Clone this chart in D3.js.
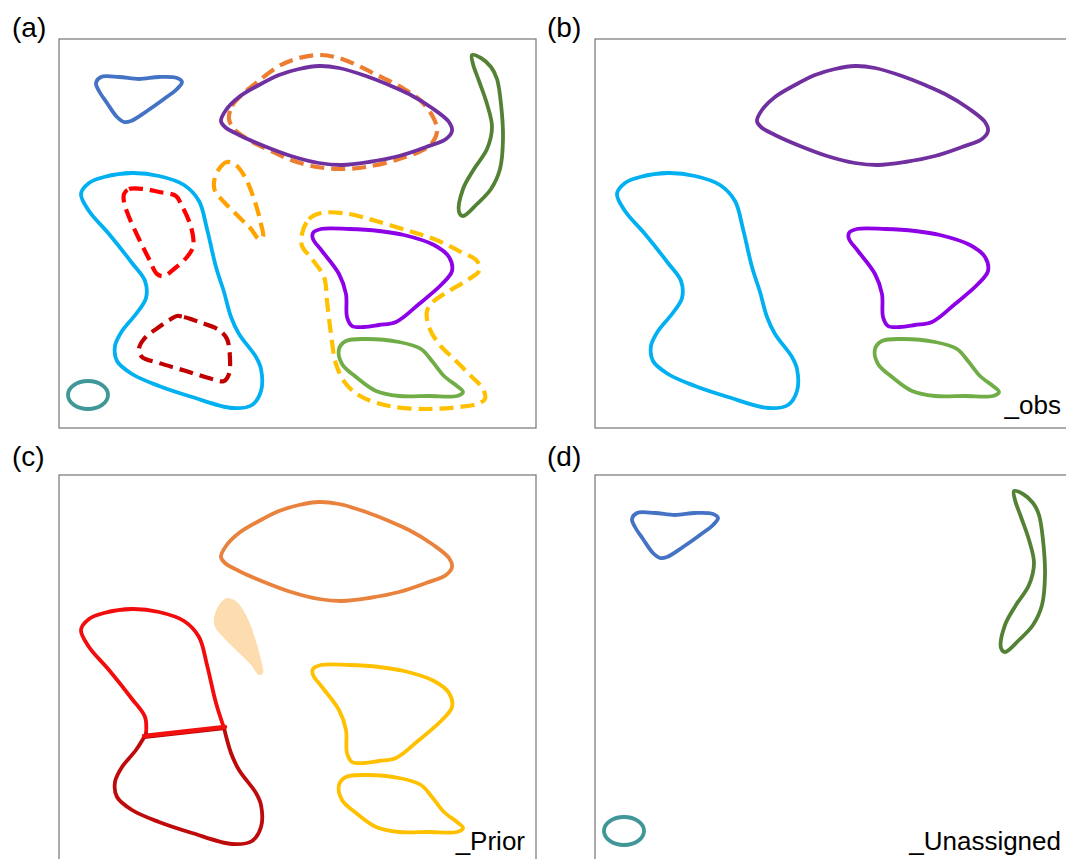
<!DOCTYPE html>
<html>
<head>
<meta charset="utf-8">
<script src="https://cdn.jsdelivr.net/npm/d3@7"></script>
<style>
  html, body { margin: 0; padding: 0; background: #fff; }
  svg { display: block; font-family: "Liberation Sans", Arial, sans-serif; }
</style>
</head>
<body>
<div id="chart"></div>
<script>
// outlines, in panel units (0..477 across, 0..389 down)
const blueTriangle = [[37,44],[42,38],[60,38],[80,40],[100,38],[118,39],[123,43],[118,50],[105,60],[88,72],[72,82],[65,83],[58,78],[48,64],[40,52]];
const purpleBig = [[162,82],[167,71],[180,58],[200,46],[220,36],[240,30],[260,27],[280,29],[307,37],[330,46],[350,55],[373,69],[390,83],[393,92],[387,100],[367,108],[340,117],[310,123],[283,126],[260,124],[232,117],[205,107],[180,96],[166,88]];
const orangeBig = [[170,80],[173,67],[185,54],[197,44],[220,27],[240,19],[262,16],[283,20],[320,37],[345,50],[362,62],[375,80],[378,93],[370,107],[340,120],[307,128],[283,130],[258,128],[232,121],[210,111],[190,101],[175,90]];
const greenCrescent = [[413,16],[422,19],[432,28],[438,40],[442,65],[444,100],[441,130],[432,150],[418,165],[404,177],[400,173],[404,150],[415,130],[428,110],[433,88],[428,65],[420,42],[414,25]];
const cyanUpper = [[87,259],[86,242],[73,224],[50,195],[30,172],[22,155],[30,144],[45,138],[73,134],[100,137],[125,146],[140,162],[148,190],[157,228],[165,253]];
const cyanLower = [[165,253],[172,278],[180,295],[197,318],[202,330],[202,352],[193,366],[173,369],[133,358],[100,347],[73,335],[58,322],[56,307],[63,292],[77,275],[87,259]];
const redUpper = [[65,155],[70,150],[85,150],[100,153],[117,157],[122,165],[130,182],[134,197],[134,208],[128,218],[115,230],[105,237],[98,235],[90,220],[80,200],[70,178],[65,163]];
const redLower = [[118,277],[125,278],[140,283],[160,291],[168,300],[171,320],[170,335],[165,342],[153,340],[127,332],[100,324],[83,318],[80,310],[85,300],[100,288],[112,280]];
const teardrop = [[155,143],[160,130],[168,123],[177,126],[187,140],[196,163],[202,185],[204,198],[200,200],[192,190],[180,178],[165,163],[156,152]];
const purpleSmall = [[254,194],[262,190],[290,190],[320,192],[345,196],[375,206],[390,218],[393,232],[383,245],[360,265],[337,283],[320,286],[305,288],[293,287],[288,278],[287,255],[280,235],[263,212],[254,200]];
const greenSmall = [[280,310],[287,302],[307,300],[340,303],[362,310],[373,322],[385,337],[398,347],[404,353],[398,357],[370,357],[340,357],[317,352],[297,338],[283,325]];
const yellowOuter = [[243,195],[250,180],[262,174],[290,175],[317,182],[350,192],[375,200],[400,212],[418,222],[420,232],[410,240],[390,252],[375,262],[368,272],[370,288],[380,305],[395,320],[412,337],[424,350],[426,360],[418,365],[400,368],[367,370],[330,367],[303,358],[287,345],[277,325],[272,295],[268,262],[265,238],[253,220],[243,207]];
const tealEllipse = { cx: 29, cy: 356, rx: 20, ry: 14 };
const splitLine = [[85,261],[166,252]];

const panelLabels = ['(a)', '(b)', '(c)', '(d)'];
const cornerTexts = ['', '_obs', '_Prior', '_Unassigned'];

const cyanWhole = cyanUpper.concat(cyanLower.slice(1, -1));

const W = 1066, H = 859;
const boxW = 477, boxH = 389;
const panels = [
  { x: 59,  y: 39,  lx: 12,  ly: 37 },
  { x: 595, y: 39,  lx: 547, ly: 37 },
  { x: 59,  y: 475, lx: 12,  ly: 466 },
  { x: 595, y: 475, lx: 547, ly: 466 }
];

const x = d3.scaleLinear().domain([0, 477]).range([0, boxW]);
const y = d3.scaleLinear().domain([0, 389]).range([0, boxH]);

const closed = d3.line().x(d => x(d[0])).y(d => y(d[1])).curve(d3.curveCatmullRomClosed.alpha(0.5));
const open = d3.line().x(d => x(d[0])).y(d => y(d[1])).curve(d3.curveCatmullRom.alpha(0.5));

const DASH = '14,7';
const LW = 3.8;

// what each panel shows
const layers = [
  [
    { pts: orangeBig, color: '#ED7D31', dash: DASH },
    { pts: redUpper, color: '#FF0000', dash: DASH },
    { pts: redLower, color: '#C00000', dash: DASH },
    { pts: teardrop, color: '#FFA200', dash: DASH },
    { pts: yellowOuter, color: '#FFC000', dash: DASH },
    { pts: blueTriangle, color: '#4472C4' },
    { pts: purpleBig, color: '#7030A0' },
    { pts: greenCrescent, color: '#548235' },
    { pts: cyanWhole, color: '#00B0F0' },
    { pts: purpleSmall, color: '#8E00E6' },
    { pts: greenSmall, color: '#70AD47' },
    { ellipse: tealEllipse, color: '#3F9797' }
  ],
  [
    { pts: purpleBig, color: '#7030A0' },
    { pts: cyanWhole, color: '#00B0F0' },
    { pts: purpleSmall, color: '#8E00E6' },
    { pts: greenSmall, color: '#70AD47' }
  ],
  [
    { pts: purpleBig, color: '#E8823C' },
    { pts: teardrop, fill: '#FDDDB0' },
    { pts: cyanUpper, color: '#F20C0C', isOpen: true },
    { pts: cyanLower, color: '#BE0A0A', isOpen: true },
    { pts: splitLine, color: '#B00000', isOpen: true, width: 2, dy: 2 },
    { pts: splitLine, color: '#F01010', isOpen: true, width: 4.5 },
    { pts: purpleSmall, color: '#FFC000' },
    { pts: greenSmall, color: '#FFC000' }
  ],
  [
    { pts: blueTriangle, color: '#4472C4' },
    { pts: greenCrescent, color: '#548235', dx: 6 },
    { ellipse: tealEllipse, color: '#3F9797' }
  ]
];

const svg = d3.select('#chart').append('svg')
  .attr('width', W)
  .attr('height', H);

panels.forEach((p, i) => {
  svg.append('text')
    .attr('x', p.lx)
    .attr('y', p.ly)
    .attr('font-size', 28)
    .attr('fill', '#000')
    .text(panelLabels[i]);

  const g = svg.append('g').attr('transform', `translate(${p.x},${p.y})`);

  g.append('rect')
    .attr('width', boxW)
    .attr('height', boxH)
    .attr('fill', 'none')
    .attr('stroke', '#7f7f7f')
    .attr('stroke-width', 1.3);

  layers[i].forEach(l => {
    if (l.ellipse) {
      g.append('ellipse')
        .attr('cx', x(l.ellipse.cx))
        .attr('cy', y(l.ellipse.cy))
        .attr('rx', x(l.ellipse.rx))
        .attr('ry', y(l.ellipse.ry))
        .attr('fill', 'none')
        .attr('stroke', l.color)
        .attr('stroke-width', LW);
      return;
    }
    const path = g.append('path')
      .attr('d', l.isOpen ? open(l.pts) : closed(l.pts))
      .attr('transform', `translate(${l.dx || 0},${l.dy || 0})`)
      .attr('stroke-linejoin', 'round')
      .attr('stroke-linecap', l.dash ? 'butt' : 'round');
    if (l.fill) {
      path.attr('fill', l.fill).attr('stroke', 'none');
    } else {
      path.attr('fill', 'none')
        .attr('stroke', l.color)
        .attr('stroke-width', l.width || (l.dash ? 4.2 : LW))
        .attr('stroke-dasharray', l.dash || null);
    }
  });

  if (cornerTexts[i]) {
    g.append('text')
      .attr('x', boxW - 11)
      .attr('y', boxH - 14)
      .attr('text-anchor', 'end')
      .attr('font-size', 26)
      .attr('fill', '#000')
      .text(cornerTexts[i]);
  }
});
</script>
</body>
</html>
